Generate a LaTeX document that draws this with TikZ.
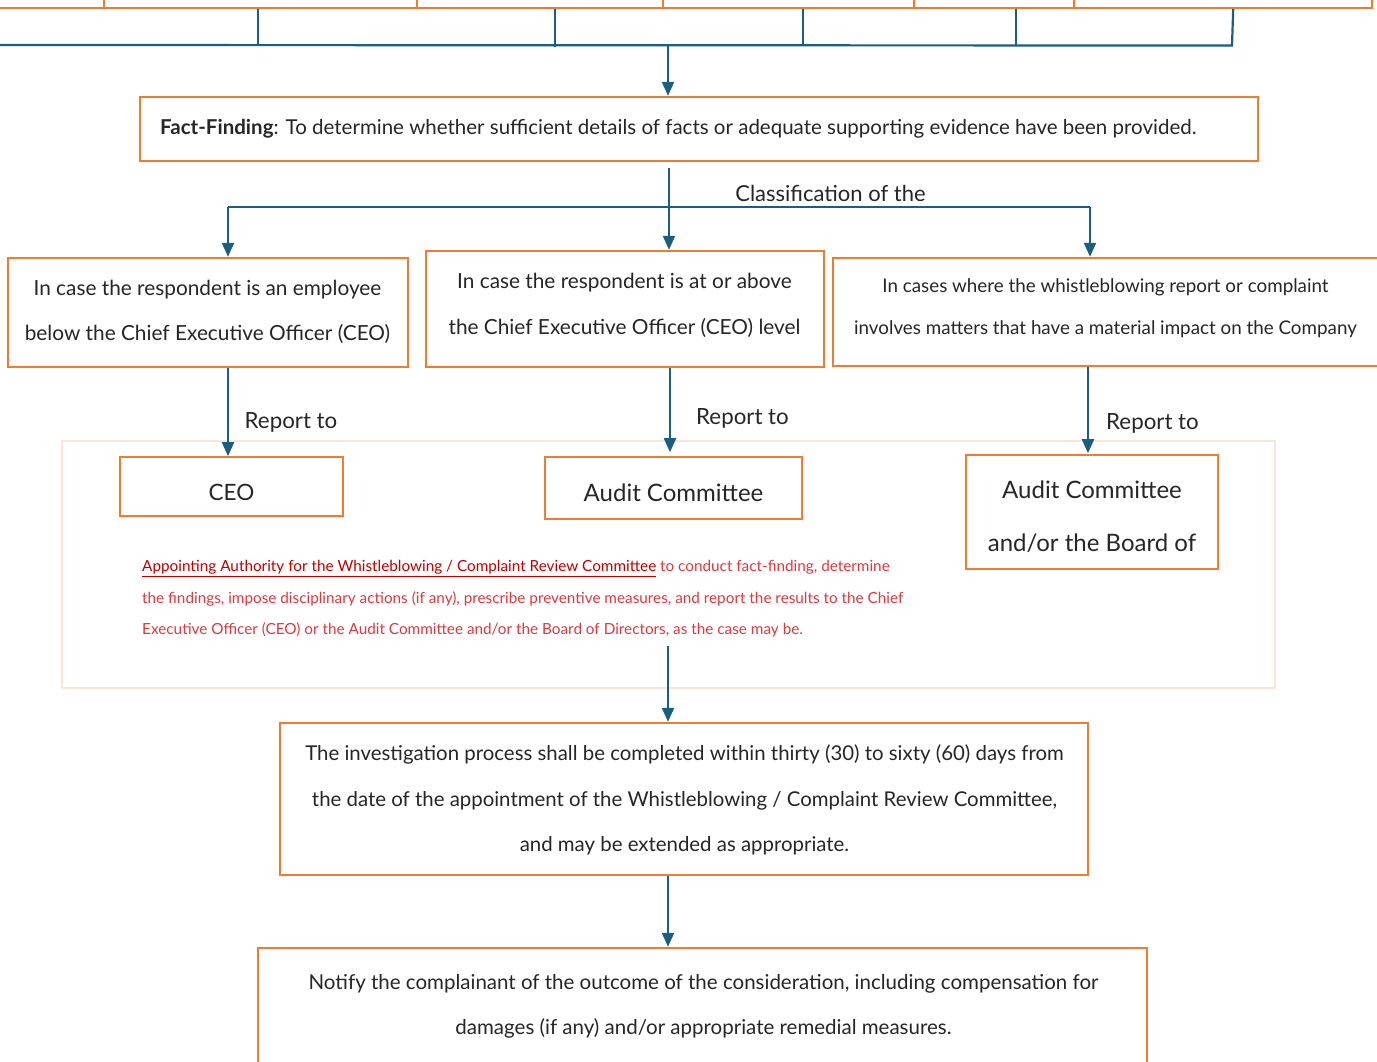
\documentclass[tikz,border=0pt]{standalone}
\usepackage{fontspec}
\setmainfont{Lato}
\usetikzlibrary{arrows.meta,calc}
\definecolor{org}{HTML}{ED7D31}
\definecolor{blu}{HTML}{1A5E80}
\definecolor{pch}{HTML}{FBE5D6}
\definecolor{dred}{HTML}{C00000}
\definecolor{lred}{HTML}{DC3A40}
\definecolor{txt}{HTML}{262626}
\newcommand{\fs}[2]{\fontsize{#1}{#2}\selectfont}
\begin{document}
\begin{tikzpicture}[x=1pt,y=-1pt,
  obox/.style={draw=org, line width=2.4pt, inner sep=0pt},
  bl/.style={draw=blu, line width=2.2pt},
  arr/.style={bl, -{Triangle[width=12pt,length=14pt]}},
  tx/.style={text=txt, inner sep=0pt, align=center, yshift=-1.5pt},
  lbl/.style={text=txt, inner sep=0pt, font=\fs{22.3}{27}, yshift=-1pt},
]
\useasboundingbox (0,0) rectangle (1377,1061);
\clip (0,0) rectangle (1377,1061);
\fill[white] (0,0) rectangle (1377,1061);

% top boxes (cut off)
\node[obox, anchor=south west, minimum width=163, minimum height=60] (t0) at (-60,9) {};
\node[obox, anchor=south west, minimum width=313, minimum height=60] (t1) at (103,9) {};
\node[obox, anchor=south west, minimum width=246, minimum height=60] (t2) at (416,9) {};
\node[obox, anchor=south west, minimum width=251, minimum height=60] (t3) at (662,9) {};
\node[obox, anchor=south west, minimum width=160, minimum height=60] (t4) at (913,9) {};
\node[obox, anchor=south west, minimum width=298, minimum height=60] (t5) at (1073,9) {};

\coordinate (hub) at (668,45);
\coordinate (hl) at (-5,45);
\coordinate (hr) at (1232,45.5);
\draw[bl] (hl) -- (hr) -- ([xshift=10pt]t5.south);
\draw[bl] ([xshift=-2.5pt]t1.south) -- ++(0,36);
\draw[bl] ([xshift=15pt]t2.south) -- ++(0,38);
\draw[bl] ([xshift=14.5pt]t3.south) -- ++(0,36);
\draw[bl] ([xshift=22pt]t4.south) -- ++(0,36.5);

% fact finding
\node[obox, minimum width=1118, minimum height=64] (ff) at (699,129) {};
\node[tx, anchor=west, font=\fs{20.5}{26}] (fft) at (160,127) {\textbf{Fact-Finding}: To determine whether sufficient details of facts or adequate supporting evidence have been provided.};
\draw[arr] (hub) -- (hub |- ff.north);

% classification boxes
\node[obox, minimum width=400, minimum height=109] (lft) at (208,312.5) {};
\node[tx, font=\fs{20.8}{45}] (lftt) at (207.5,310.5) {In case the respondent is an employee\\below the Chief Executive Officer (CEO)};
\node[obox, minimum width=398, minimum height=116] (mid) at (625,309) {};
\node[tx, font=\fs{20.8}{46}] (midt) at (624.5,304) {In case the respondent is at or above\\the Chief Executive Officer (CEO) level};
\node[obox, minimum width=545, minimum height=108] (rgt) at (1105.5,312) {};
\node[tx, font=\fs{18.8}{42}] (rgtt) at (1105.5,307) {In cases where the whistleblowing report or complaint\\involves matters that have a material impact on the Company};

\coordinate (cs) at (669,168);
\coordinate (cl) at (228,207);
\coordinate (cr) at (1090,207);
\draw[bl] (cl) -- (cr);
\draw[arr] (cs) -- (cs |- mid.north);
\draw[arr] (cl) -- (cl |- lft.north);
\draw[arr] (cr) -- (cr |- rgt.north);
\node[lbl, font=\fs{22}{27}] (cls) at (830.5,192) {Classification of the};

% group box
\node[draw=pch, line width=1.8pt, minimum width=1213, minimum height=247, inner sep=0pt] (grp) at (668.5,564.5) {};

\node[obox, minimum width=223, minimum height=59] (ceo) at (231.5,486.5) {};
\node[tx, font=\fs{22.5}{28}] (ceot) at (231.5,491) {CEO};
\node[obox, minimum width=257, minimum height=62] (aud) at (673.5,488) {};
\node[tx, font=\fs{24}{28}] (audt) at (673.5,491) {Audit Committee};
\node[obox, minimum width=252, minimum height=114] (bod) at (1092,512) {};
\node[tx, font=\fs{24}{53}] (bodt) at (1092,515.5) {Audit Committee\\and/or the Board of};

\draw[arr] ([xshift=20pt]lft.south) -- ++(0,88);
\draw[arr] ([xshift=45pt]mid.south) -- ++(0,84);
\draw[arr] ([xshift=-17.5pt]rgt.south) -- ++(0,86);
\node[lbl] (r1) at (291,421) {Report to};
\node[lbl] (r2) at (742.5,417) {Report to};
\node[lbl] (r3) at (1152.5,422) {Report to};

\node[inner sep=0pt, anchor=west, align=left, text=lred, font=\fs{15.3}{31.5}, yshift=-1.5pt] (red) at (142,597.5)
 {{\color{dred}\underline{Appointing Authority for the Whistleblowing / Complaint Review Committee}} to conduct fact-finding, determine\\
 the findings, impose disciplinary actions (if any), prescribe preventive measures, and report the results to the Chief\\
 Executive Officer (CEO) or the Audit Committee and/or the Board of Directors, as the case may be.};

% investigation
\node[obox, minimum width=808, minimum height=152] (inv) at (684,799) {};
\node[tx, font=\fs{20.4}{45.5}] (invt) at (684.5,798.5) {The investigation process shall be completed within thirty (30) to sixty (60) days from\\the date of the appointment of the Whistleblowing / Complaint Review Committee,\\and may be extended as appropriate.};
\coordinate (g1) at (668,646);
\draw[arr] (g1) -- (g1 |- inv.north);

% notify
\node[obox, minimum width=889, minimum height=132] (bot) at (702.5,1014) {};
\node[tx, font=\fs{20.5}{45}] (bott) at (703.5,1004.5) {Notify the complainant of the outcome of the consideration, including compensation for\\damages (if any) and/or appropriate remedial measures.};
\draw[arr] ([xshift=-16pt]inv.south) -- (bot.north -| g1);
\end{tikzpicture}
\end{document}
